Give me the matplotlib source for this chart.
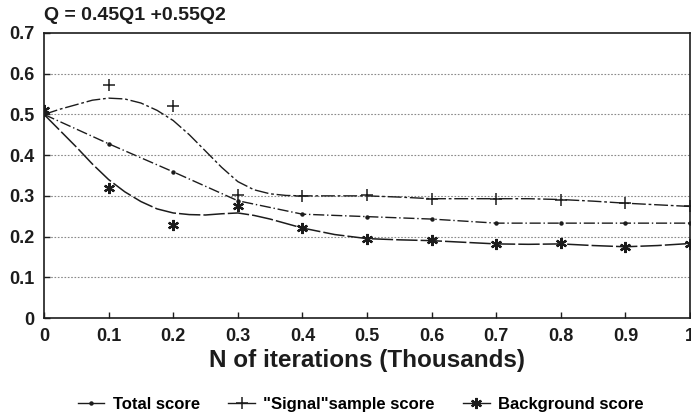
import numpy as np
import matplotlib
matplotlib.use("Agg")
import matplotlib.pyplot as plt

plt.rcParams['font.family'] = ['Liberation Sans', 'DejaVu Sans']
plt.rcParams['font.weight'] = 'bold'

# ---- measured scores per 1000 iterations ----
iters = [0, 0.1, 0.2, 0.3, 0.4, 0.5, 0.6, 0.7, 0.8, 0.9, 1.0]
total_score = [0.50, 0.428, 0.359, 0.288, 0.255, 0.249, 0.243, 0.233, 0.233, 0.233, 0.233]
signal_score = [0.50, 0.572, 0.520, 0.302, 0.300, 0.302, 0.292, 0.293, 0.291, 0.282, 0.275]
background_score = [0.51, 0.319, 0.229, 0.274, 0.221, 0.194, 0.192, 0.182, 0.184, 0.174, 0.182]

# fitted trend curves (denser where they bend)
fit_x = [0, 0.025, 0.05, 0.075, 0.1, 0.125, 0.15, 0.175, 0.2, 0.225, 0.25, 0.275,
         0.3, 0.325, 0.35, 0.375, 0.4, 0.45, 0.5, 0.55, 0.6, 0.65, 0.7, 0.75,
         0.8, 0.85, 0.9, 0.95, 1.0]
signal_fit = [0.50, 0.513, 0.524, 0.535, 0.540, 0.538, 0.528, 0.510, 0.485, 0.450, 0.410, 0.370,
              0.335, 0.315, 0.305, 0.301, 0.300, 0.300, 0.300, 0.297, 0.293, 0.293, 0.293, 0.293,
              0.291, 0.287, 0.282, 0.278, 0.274]
background_fit = [0.50, 0.460, 0.420, 0.378, 0.340, 0.310, 0.286, 0.268, 0.258, 0.254, 0.253, 0.256,
                  0.258, 0.252, 0.243, 0.232, 0.221, 0.205, 0.195, 0.192, 0.190, 0.186, 0.182, 0.181,
                  0.182, 0.178, 0.175, 0.178, 0.183]

ink = "#1c1c1c"
asterisk = (6, 2, 0)

fig = plt.figure(figsize=(6.91, 4.15), dpi=100)
ax = fig.add_axes([0.0637, 0.2337, 0.9349, 0.6868])

# grid first so the curves sit on top
for yv in np.arange(0.1, 0.65, 0.1):
    ax.axhline(yv, color="#8a8a8a", lw=0.8, ls=(0, (1.5, 1.5)), zorder=1)

ax.plot(iters, total_score, color=ink, lw=1.0, ls=(0, (8, 2, 1, 2)), zorder=3)
ax.plot(iters, total_score, ls="none", marker="o", ms=2.2, color=ink, zorder=4)

ax.plot(fit_x, signal_fit, color=ink, lw=1.0, ls=(0, (10, 2, 2, 2)), zorder=3)
ax.plot(iters, signal_score, ls="none", marker="+", ms=9, mew=1.1, color=ink, zorder=4)

ax.plot(fit_x, background_fit, color=ink, lw=1.1, ls=(0, (14, 2)), zorder=3)
ax.plot(iters, background_score, ls="none", marker=asterisk, ms=8, mew=1.6, color=ink, zorder=4)

ax.set_xlim(0, 1)
ax.set_ylim(0, 0.7)
ax.set_xticks(iters)
ax.set_xticklabels(["0", "0.1", "0.2", "0.3", "0.4", "0.5", "0.6", "0.7", "0.8", "0.9", "1"])
ax.set_yticks([0, 0.1, 0.2, 0.3, 0.4, 0.5, 0.6, 0.7])
ax.set_yticklabels(["0", "0.1", "0.2", "0.3", "0.4", "0.5", "0.6", "0.7"])
ax.tick_params(direction="in", length=4, width=1.0, color=ink, labelsize=13,
               labelcolor=ink, pad=7)
for side in ["left", "bottom", "top", "right"]:
    ax.spines[side].set_color(ink)
    ax.spines[side].set_linewidth(1.2)

ax.set_xlabel("N of iterations (Thousands)", fontsize=17.5, fontweight="bold",
              color=ink, labelpad=3)
fig.text(0.0637, 0.962, "Q = 0.45Q1 +0.55Q2", fontsize=14, fontweight="bold",
         color=ink, ha="left", va="center")

# legend handles
h_total, = ax.plot([], [], color=ink, lw=1.0, marker="o", ms=2.2)
h_signal, = ax.plot([], [], color=ink, lw=1.0, marker="+", ms=9, mew=1.1)
h_back, = ax.plot([], [], color=ink, lw=1.0, marker=asterisk, ms=8, mew=1.6)
fig.legend([h_total, h_signal, h_back],
           ["Total score", "\"Signal\"sample score", "Background score"],
           loc="center", bbox_to_anchor=(0.522, 0.025), ncol=3, frameon=False,
           handlelength=1.6, handletextpad=0.5, columnspacing=1.7,
           prop={"size": 12, "weight": "bold"})

fig.savefig("out.png", dpi=100)
